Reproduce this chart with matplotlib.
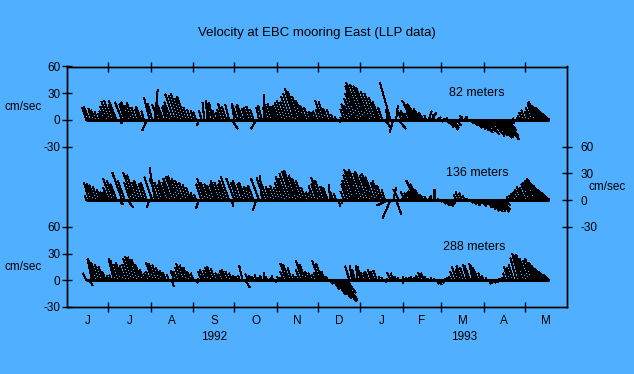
import numpy as np
import pandas as pd
import matplotlib
matplotlib.use("Agg")
import matplotlib.pyplot as plt
from matplotlib.collections import LineCollection

plt.rcParams['font.family'] = ['Liberation Sans', 'DejaVu Sans']

# sticks every 2 days, starting 15 Jun 1992 (values in cm/sec)
t_start = "1992-06-15"
n_sticks = 170
step_days = 2

# 82 meters
v82 = [14, 15, 13, 11, 9, 7, 10, 15, 21, 22,
       17, 22, -4, 20, 18, 20, 16, 19, 14, 12,
       15, 10, -12, 25, 18, 34, 17, 15, 18, 14,
       16, 20, 29, 27, 30, 24, 26, 14, 12, 10,
       9, -6, 11, 20, 22, 18, 20, 10, 8, 12,
       18, 15, 17, -10, 18, 16, 15, 17, 13, 14,
       15, 12, -10, 14, 16, 28, 14, 17, 18, 15,
       16, 19, 22, 20, 26, 30, 35, 32, 26, 22,
       16, 14, 9, 8, 10, 12, 22, 20, 13, 12,
       6, 4, -3, 3, 12, 18, 16, 24, 30, 38,
       42, 40, 38, 36, 32, 30, 25, 20, 14, -8,
       12, 42, -14, 16, -10, 12, 10, 7, 8, 18,
       22, 18, 12, 8, 5, 10, 8, 6, 3, -2,
       2, -4, -8, -11, -9, -6, 3, 5, 4, 3,
       -4, -6, -9, -10, -12, -14, -13, -16, -18, -17,
       -20, -19, -22, -18, -12, -4, 2, 3, 5, 8,
       11, 9, 14, 18, 21, 20, 19, 16, 14, 10]
u82 = [-5, -6, -4, -4, -3, -2, -4, -6, -8, -8,
       -6, -9, 3, -8, -6, -7, -6, -7, -5, -4,
       -6, -3, -5, -6, -5, 3, -6, -5, -7, -4,
       -6, -8, -10, -9, -10, -8, -9, -5, -4, -3,
       -3, -2, -3, -2, -1, -3, -4, -3, -2, -4,
       -6, -5, -4, 7, -3, -5, -4, -6, -4, -5,
       -5, -4, -6, -3, -4, -1, -5, -6, -6, -5,
       -6, -7, -8, -7, -9, -10, -11, -11, -9, -8,
       -6, -5, -3, -3, -4, -4, -8, -7, -5, -4,
       -2, -1, 2, -1, -4, -6, -6, -9, -11, -14,
       -16, -15, -14, -14, -12, -11, -9, -8, -5, 6,
       -2, -12, -4, 2, 8, -5, -4, -3, -3, -10,
       -15, -12, -8, -5, -2, 3, 5, -2, 4, 3,
       5, 5, 6, 8, 6, 5, 4, -2, 3, -2,
       4, 5, 7, 8, 9, 10, 10, 11, 14, 14,
       16, 15, 18, 14, 9, 3, -1, 1, -2, -3,
       -4, -3, -5, -6, -8, -12, -14, -14, -13, -12]

# 136 meters
v136 = [5, 20, 19, 17, 15, 12, 9, 8, 14, 24,
        22, 18, -5, 31, 22, -8, 20, 31, 28, 20,
        22, 18, 20, -8, 26, 36, 24, 20, 18, 22,
        20, 24, 26, 27, 24, 22, 20, 17, 14, 8,
        6, -9, 18, 24, 20, 18, 16, 18, 22, 20,
        18, 22, 26, -7, 24, 20, 22, 18, 20, 15,
        14, 16, -12, 24, 28, 25, 17, 15, 13, 16,
        14, 20, 26, 24, 30, 32, 33, 28, 24, 22,
        14, 9, 8, 16, 18, 25, 22, 15, 14, 18,
        9, 7, -7, -4, 10, 18, 22, 28, 34, 32,
        34, 30, 32, 28, 30, 26, 20, 22, 16, 12,
        -6, -20, 14, -16, 12, 10, 10, 8, 6, 10,
        22, 18, 12, 6, 4, 5, 3, 12, 2, -2,
        -4, -6, -7, -5, -3, 6, 9, 8, 5, 2,
        -3, -5, -6, -4, -7, -5, -8, -10, -12, -13,
        -12, -13, -11, -6, 4, 5, 7, 9, 12, 15,
        14, 18, 20, 22, 24, 23, 20, 16, 12, 8]
u136 = [-2, -6, -6, -6, -5, -4, -3, -3, -6, -9,
        -8, -7, 4, -11, -8, 6, -7, -11, -10, -7,
        -8, -6, -7, -3, -9, -6, -9, -7, -6, -8,
        -7, -9, -9, -10, -9, -8, -7, -6, -5, -3,
        -2, -3, -6, -8, -7, -6, -6, -6, -8, -7,
        -6, -8, -9, 2, -9, -7, -8, -6, -7, -5,
        -5, -6, -4, -9, -2, -9, -6, -5, -5, -6,
        -5, -7, -9, -9, -11, -11, -12, -10, -9, -8,
        -5, -3, -3, -6, -6, -9, -8, -5, -5, -2,
        -3, -2, 2, 1, -4, -6, -8, -10, -12, -12,
        -13, -11, -12, -10, -11, -10, -7, -8, -6, -4,
        -12, -9, 3, 6, -6, 8, -4, -3, -2, -5,
        -10, -9, -7, -4, -2, 2, -1, 0, 1, 2,
        4, 5, 6, 4, 2, -3, -4, -3, -2, -1,
        3, 4, 5, 3, 6, 4, 6, 7, 8, 9,
        9, 10, 8, 5, -2, -2, -3, -4, -5, -6,
        -6, -7, -8, -9, -10, -12, -13, -12, -11, -9]

# 288 meters
v288 = [8, -6, 24, 22, 20, 18, 15, 10, 5, 6,
        24, 22, 18, 20, 16, 18, 24, 27, 26, 23,
        18, 12, 8, 10, 20, 19, 17, 14, 11, 9,
        6, -7, 11, 10, 14, 19, 17, 14, 10, 8,
        -3, 2, 10, 12, 11, 14, 15, 13, 8, 7,
        11, 12, 10, 8, 5, 4, 5, 17, -8, 7,
        5, 4, 6, 3, 5, 9, 4, 3, 5, -2,
        4, 3, 10, 19, 18, 14, 6, 4, 12, 22,
        18, 10, 8, 6, 9, 22, 19, 10, 4, -4,
        -10, -16, -20, -24, -22, -14, 16, 17, 12, 17,
        15, 9, 8, 10, 12, 10, 11, 4, 3, -2,
        2, 9, 8, 4, 3, -3, 4, 3, 3, 4,
        3, 5, 9, 8, 4, 2, 3, 2, -4, -5,
        -3, 2, 3, 4, 10, 15, 12, 16, 14, 18,
        16, 19, 17, 14, 8, 5, 3, -4, -3, -3,
        -2, 2, 3, 8, 15, 14, 18, 25, 30, 28,
        29, 24, 22, 24, 20, 18, 16, 13, 10, 6]
u288 = [-4, 4, -5, -7, -7, -6, -5, -4, -2, -2,
        -6, -7, -6, -7, -6, -6, -8, -9, -9, -8,
        -7, -5, -3, -4, -7, -7, -6, -5, -4, -4,
        -2, 3, -4, -4, -5, -7, -6, -5, -4, -3,
        2, -1, -4, -5, -4, -5, -6, -5, -3, -3,
        -4, -5, -4, -3, -2, -2, -2, -4, 5, -3,
        -2, -2, -2, -1, -2, -1, -2, 1, -1, 1,
        -1, -1, -4, -7, -7, -5, -2, -2, -5, -8,
        -7, -4, -3, -2, -3, -8, -7, -4, -2, 3,
        7, 11, 14, 17, 15, 10, -5, -3, -3, -2,
        -3, -3, -3, -4, -4, -4, -4, -1, -1, 1,
        -1, -4, -3, -2, -1, 2, -2, -1, -1, -2,
        -1, -2, -3, -3, -2, -1, -1, -1, 2, 2,
        1, -1, -1, -2, -4, -5, -4, -6, -5, -5,
        -6, -4, -6, -6, -3, -2, -1, 2, 1, 1,
        1, -1, -1, -3, -5, -5, -6, -7, -8, -9,
        -10, -9, -8, -9, -8, -10, -11, -10, -9, -7]

depth_labels = ["82 meters", "136 meters", "288 meters"]
month_letters = ["J", "J", "A", "S", "O", "N", "D", "J", "F", "M", "A", "M"]
years = ["1992", "1993"]

bg = "#50B0FF"
W, H = 634, 374

t0 = pd.Timestamp("1992-06-01")
months = pd.date_range("1992-06-01", "1993-06-01", freq="MS")
mdays = np.array([(m - t0).days for m in months])
times = np.array([(d - t0).days for d in pd.date_range(t_start, periods=n_sticks, freq=f"{step_days}D")])

offsets = [0, -90, -180]  # zero line of each record on the shared y axis
ylo, yhi = -210, 60

fig = plt.figure(figsize=(W / 100, H / 100), dpi=100, facecolor=bg)
ax_l, ax_r, ax_t, ax_b = 67.3, 567.3, 66.5, 307.0
ax = fig.add_axes([ax_l / W, 1 - ax_b / H, (ax_r - ax_l) / W, (ax_b - ax_t) / H])
ax.set_facecolor(bg)
ax.set_xlim(mdays[0], mdays[-1])
ax.set_ylim(ylo, yhi)

# stick length: u drawn with the same pixel scale as v
px_per_day = (ax_r - ax_l) / (mdays[-1] - mdays[0])
px_per_cm = (ax_b - ax_t) / (yhi - ylo)
kx = px_per_cm / px_per_day

for (u, v), off in zip([(u82, v82), (u136, v136), (u288, v288)], offsets):
    u = np.array(u); v = np.array(v)
    segs = [[(t, off), (t + uu * kx, off + vv)] for t, uu, vv in zip(times, u, v)]
    lc = LineCollection(segs, colors="black", linewidths=0.75, antialiaseds=False)
    ax.add_collection(lc)
    ax.plot([times[0], times[-1]], [off, off], color="black", lw=2.2, solid_capstyle="butt")

# labels of the records
ax.text(299, offsets[0] + 30, depth_labels[0], fontsize=9, ha="center", va="center")
ax.text(299, offsets[1] + 30, depth_labels[1], fontsize=9, ha="center", va="center")
ax.text(297, offsets[2] + 37, depth_labels[2], fontsize=9, ha="center", va="center")

# y axes
left_pos = [60, 30, 0, -30, -120, -150, -180, -210]
left_lbl = ["60", "30", "0", "-30", "60", "30", "0", "-30"]
ax.set_yticks(left_pos)
ax.set_yticklabels(left_lbl)
ax.tick_params(axis="y", direction="inout", length=7, width=1, pad=1.5, labelsize=8.5)

ax2 = ax.twinx()
ax2.set_ylim(ylo, yhi)
ax2.set_yticks([-30, -60, -90, -120])
ax2.set_yticklabels(["60", "30", "0", "-30"])
ax2.tick_params(axis="y", direction="inout", length=7, width=1, pad=6, labelsize=8.5)

# x axis: months
ax.set_xticks(mdays[1:-1])
ax.set_xticklabels([])
ax.tick_params(axis="x", direction="inout", length=7, width=1, top=True)
mids = (mdays[:-1] + mdays[1:]) / 2
tr = ax.get_xaxis_transform()
for x, s in zip(mids, month_letters):
    ax.text(x, -14 / (ax_b - ax_t), s, transform=tr, fontsize=8.5, ha="center", va="center")
yr_edges = [mdays[0], mdays[7], mdays[-1]]
for i, s in enumerate(years):
    ax.text((yr_edges[i] + yr_edges[i + 1]) / 2, -30 / (ax_b - ax_t), s, transform=tr,
            fontsize=8.5, ha="center", va="center")

for a in (ax, ax2):
    for sp in a.spines.values():
        sp.set_color("black")
        sp.set_linewidth(1)

fig.text(317 / W, 1 - 33 / H, "Velocity at EBC mooring East (LLP data)", fontsize=9.5, ha="center", va="center")
fig.text(23 / W, 1 - 107 / H, "cm/sec", fontsize=8.5, ha="center", va="center")
fig.text(23 / W, 1 - 267 / H, "cm/sec", fontsize=8.5, ha="center", va="center")
fig.text(607 / W, 1 - 187 / H, "cm/sec", fontsize=8.5, ha="center", va="center")

fig.savefig("out.png", dpi=100, facecolor=bg)
